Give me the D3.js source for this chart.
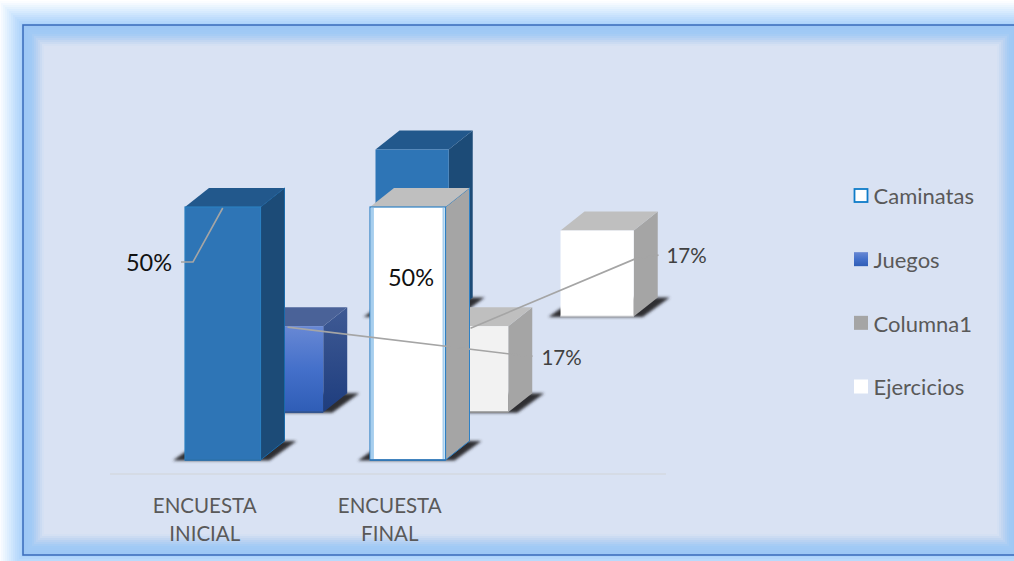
<!DOCTYPE html>
<html>
<head>
<meta charset="utf-8">
<script src="https://cdn.jsdelivr.net/npm/d3@7/dist/d3.min.js"></script>
<style>
html,body{margin:0;padding:0;background:#fff;overflow:hidden}
svg{display:block}
text{font-family:Lato,"Open Sans",sans-serif}
</style>
</head>
<body>
<svg id="chart" width="1014" height="561"></svg>
<script>
// Survey results per activity, one depth row per series
const categories = ["ENCUESTA INICIAL", "ENCUESTA FINAL"];
const seriesNames = ["Caminatas", "Juegos", "Columna1", "Ejercicios"];
const caminatas = [50, 50];
const juegos = [17, 17];
const columna1 = [null, null];
const ejercicios = [33, 17];
const seriesValues = [caminatas, juegos, columna1, ejercicios];

const svg = d3.select("#chart");
const defs = svg.append("defs");

// Vertical shading used by the Juegos bars
function vGradient(id, stops) {
  const g = defs.append("linearGradient").attr("id", id)
    .attr("x1", 0).attr("y1", 0).attr("x2", 0).attr("y2", 1);
  stops.forEach(([o, c]) => g.append("stop").attr("offset", o).attr("stop-color", c));
}
vGradient("juegosFront", [[0, "#6888D4"], [0.5, "#4470CA"], [1, "#2F5DB6"]]);
vGradient("juegosSide", [[0, "#3F5A94"], [1, "#1E3D7E"]]);
defs.append("filter").attr("id", "soft").attr("x", "-20%").attr("y", "-50%")
  .attr("width", "140%").attr("height", "200%")
  .append("feGaussianBlur").attr("stdDeviation", 1.4);

// Glowing frame: pale halo outside the line, blue bevel fading into the panel inside
const frame = { x: 23, y: 25, x2: 1018, y2: 555 };
function ring(d, fill) {
  svg.append("rect")
    .attr("x", frame.x - d).attr("y", frame.y - d)
    .attr("width", frame.x2 - frame.x + 2 * d).attr("height", frame.y2 - frame.y + 2 * d)
    .attr("fill", fill);
}
const haloColor = d3.scaleLinear().domain([0, 8, 16, 25]).range(["#A6CFFA", "#BFDDFC", "#DDEEFE", "#FFFFFF"]);
for (let d = 26; d >= 1; d -= 2) ring(d, haloColor(d));
ring(0, "#9CC6F5");
const bevelColor = d3.scaleLinear().domain([0, 8, 14, 20]).range(["#9CC6F5", "#A2CAF5", "#BDD3F1", "#D9E2F3"]);
for (let d = 1; d <= 20; d += 2) ring(-d, bevelColor(d));
ring(-21, "#D9E2F3");
svg.append("rect")
  .attr("x", frame.x).attr("y", frame.y)
  .attr("width", frame.x2 - frame.x).attr("height", frame.y2 - frame.y)
  .attr("fill", "none").attr("stroke", "#3F70BE").attr("stroke-width", 1.6);

// Scales: category position, value to height, series to depth offset
const baseY = 460;
const x = d3.scaleBand().domain(categories).range([185, 445.5]).paddingInner(0.592).paddingOuter(0);
const barH = d3.scaleLinear().domain([0, 50]).range([0, 253]);
const rowX = d3.scaleLinear().domain([0, 3]).range([0, 190.5]);
const rowY = d3.scaleLinear().domain([0, 3]).range([0, 143.5]);
const rowWidth = d3.scaleLinear().domain([0, 3]).range([1, 0.97]);
const depthX = 24, depthY = 19;

const skins = {
  blue:  { front: "#2E75B6", top: "#22588C", side: "#1C4B77", stroke: "#2B7FC0", edge: "#1A6AAB", base: "#2E6FA8" },
  back:  { front: "#2E75B6", top: "#22588C", side: "#1C4B77", stroke: "none", edge: "none", base: "#2E6FA8" },
  frame: { front: "#FFFFFF", top: "#BFBFBF", side: "#A5A5A5", stroke: "#2E80C4", edge: "#2E80C4", base: "#2E75B6", inner: "#A6CEEE" },
  royal: { front: "url(#juegosFront)", top: "#4A6298", side: "url(#juegosSide)", stroke: "none", edge: "none", base: "#33558F" },
  plain: { front: "#FFFFFF", top: "#BFBFBF", side: "#A5A5A5", stroke: "none", edge: "none", base: "#BDBFC4" },
  pale:  { front: "#F2F2F2", top: "#BFBFBF", side: "#A5A5A5", stroke: "none", edge: "none", base: "#8F9092" }
};
const barSkin = [["blue", "frame"], ["royal", "pale"], [null, null], ["back", "plain"]];

const bars = [];
seriesValues.forEach((vals, s) => vals.forEach((v, c) => {
  if (v === null) return;
  const x0 = x(categories[c]) + rowX(s);
  const w = x.bandwidth() * rowWidth(s);
  const y1 = baseY - rowY(s);
  const y0 = y1 - barH(v);
  bars.push({ s, c, v, x0, w, y0, y1, skin: skins[barSkin[s][c]] });
}));
const poly = pts => pts.map(p => p.join(",")).join(" ");

// Back rows first so the nearer bars overlap them
bars.sort((a, b) => b.s - a.s || a.c - b.c);
const plot = svg.append("g");

const barG = plot.selectAll("g.bar").data(bars).join("g").attr("class", "bar");
barG.append("polygon").attr("filter", "url(#soft)").attr("fill", "#2E2E33")
  .attr("points", d => poly([
    [d.x0 - 12, d.y1 + 0.5], [d.x0 + d.w + 9, d.y1 + 0.5],
    [d.x0 + d.w + depthX + 12, d.y1 - depthY], [d.x0 + d.w, d.y1 - depthY], [d.x0, d.y1 - 8]
  ]));
barG.append("polygon").attr("fill", d => d.skin.side)
  .attr("points", d => poly([
    [d.x0 + d.w, d.y0], [d.x0 + d.w + depthX, d.y0 - depthY],
    [d.x0 + d.w + depthX, d.y1 - depthY], [d.x0 + d.w, d.y1]
  ]))
  .attr("stroke", d => d.skin.edge).attr("stroke-width", 1);
barG.append("polygon").attr("fill", d => d.skin.top)
  .attr("points", d => poly([
    [d.x0, d.y0], [d.x0 + depthX, d.y0 - depthY],
    [d.x0 + d.w + depthX, d.y0 - depthY], [d.x0 + d.w, d.y0]
  ]));
barG.append("rect").attr("x", d => d.x0).attr("y", d => d.y0)
  .attr("width", d => d.w).attr("height", d => d.y1 - d.y0)
  .attr("fill", d => d.skin.front).attr("stroke", d => d.skin.stroke).attr("stroke-width", 1.2);
// Pale inner edges on the outlined white bar
barG.filter(d => d.skin.inner).selectAll("line.inner")
  .data(d => [{ x: d.x0 + 2.4, w: 3, d }, { x: d.x0 + d.w - 2, w: 2, d }])
  .join("line").attr("class", "inner")
  .attr("x1", e => e.x).attr("x2", e => e.x)
  .attr("y1", e => e.d.y0 + 1).attr("y2", e => e.d.y1 - 1)
  .attr("stroke", e => e.d.skin.inner).attr("stroke-width", e => e.w);
barG.append("line").attr("x1", d => d.x0).attr("x2", d => d.x0 + d.w)
  .attr("y1", d => d.y1).attr("y2", d => d.y1)
  .attr("stroke", d => d.skin.base).attr("stroke-width", 1.6);

// Floor line under the front row
svg.append("line").attr("x1", 110).attr("x2", 666).attr("y1", 474).attr("y2", 474)
  .attr("stroke", "#D3D8E0").attr("stroke-width", 1.5);

// Category axis, wrapped onto two lines
const axis = svg.append("g")
  .attr("transform", `translate(-18,${baseY + 46})`)
  .call(d3.axisBottom(x).tickSize(0));
axis.select(".domain").remove();
axis.selectAll(".tick text").each(function (d) {
  const t = d3.select(this).text(null)
    .attr("font-size", 20.5).attr("fill", "#595959").style("font-family", "Lato,sans-serif");
  d.split(" ").forEach((word, i) => {
    t.append("tspan").attr("x", 0).attr("y", i * 28).attr("dy", "0.32em").text(word);
  });
});

// Data labels with their leader lines, placed relative to the bar they describe
const pct = d => `${d}%`;
const find = (s, c) => bars.find(b => b.s === s && b.c === c);
const labelSpecs = [
  { s: 0, c: 0, size: 23.5, fill: "#111", at: b => [b.x0 - 36, b.y0 + 56],
    path: b => [[b.x0 + b.w / 2, b.y0 + 1], [b.x0 + 8, b.y0 + 55], [b.x0 - 4, b.y0 + 55]] },
  { s: 0, c: 1, size: 23.5, fill: "#111", at: b => [b.x0 + 41, b.y0 + 71], path: null },
  { s: 1, c: 0, size: 20.5, fill: "#404040", at: b => [b.x0 + 313, b.y0 + 32],
    path: b => [[b.x0 + 39, b.y0 + 1], [b.x0 + 279, b.y0 + 30], [b.x0 + 284, b.y0 + 30]] },
  { s: 1, c: 1, size: 20.5, fill: "#404040", at: b => [b.x0 + 253, b.y0 - 70],
    path: b => [[b.x0 + 37, b.y0 + 2], [b.x0 + 201, b.y0 - 67], [b.x0 + 225, b.y0 - 71]] }
];
const leader = d3.line();
labelSpecs.forEach(spec => {
  const b = find(spec.s, spec.c);
  if (spec.path) {
    svg.append("path").attr("d", leader(spec.path(b))).attr("fill", "none")
      .attr("stroke", "#A5A5A5").attr("stroke-width", 1.6);
  }
  const [tx, ty] = spec.at(b);
  svg.append("text").attr("x", tx).attr("y", ty).attr("dy", "0.35em")
    .attr("text-anchor", "middle").attr("font-size", spec.size).attr("fill", spec.fill)
    .text(pct(b.v));
});

// Legend
const legendY = d3.scalePoint().domain(seriesNames).range([195.5, 386.5]);
const swatches = [
  { fill: "#FFFFFF", stroke: "#0F7CC8" }, { fill: "url(#juegosFront)", stroke: "none" },
  { fill: "#A5A5A5", stroke: "none" }, { fill: "#FFFFFF", stroke: "none" }
];
const legend = svg.append("g").selectAll("g").data(seriesNames).join("g")
  .attr("transform", d => `translate(0,${legendY(d)})`);
legend.append("rect")
  .attr("x", (d, i) => swatches[i].stroke === "none" ? 854 : 854.5)
  .attr("y", (d, i) => swatches[i].stroke === "none" ? -7 : -6.5)
  .attr("width", (d, i) => swatches[i].stroke === "none" ? 14 : 13)
  .attr("height", (d, i) => swatches[i].stroke === "none" ? 14 : 13)
  .attr("fill", (d, i) => swatches[i].fill).attr("stroke", (d, i) => swatches[i].stroke)
  .attr("stroke-width", 1.8);
legend.append("text").attr("x", 873.5).attr("y", 1).attr("dy", "0.35em")
  .attr("font-size", 22).attr("fill", "#595959").text(d => d);
</script>
</body>
</html>
